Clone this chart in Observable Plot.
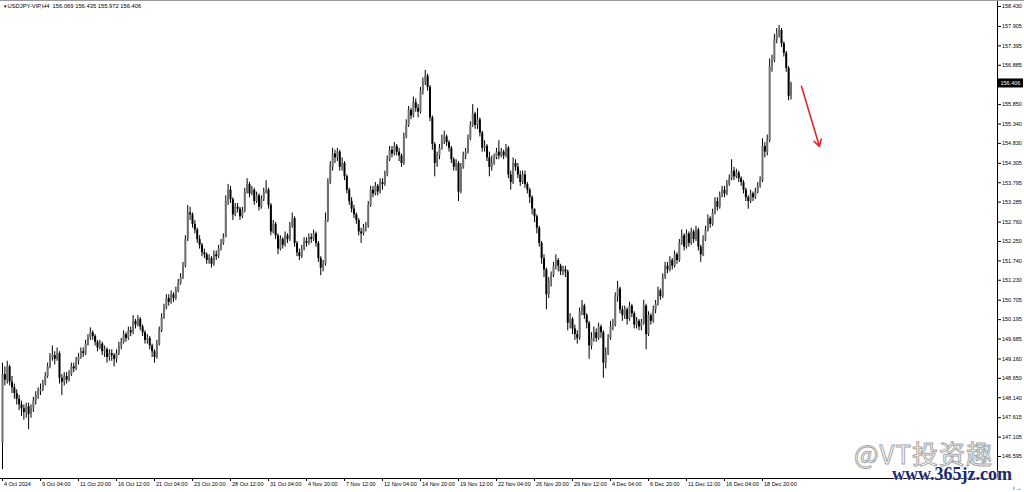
<!DOCTYPE html>
<html><head><meta charset="utf-8">
<script src="https://cdn.jsdelivr.net/npm/d3@7"></script>
<script src="https://cdn.jsdelivr.net/npm/@observablehq/plot@0.6"></script>
<style>
html,body{margin:0;padding:0;background:#fff;overflow:hidden}
#wrap{position:relative;width:1024px;height:492px}
#wrap svg{display:block}
.topline{position:absolute;left:0;top:0;width:1024px;height:1px;background:#9a9a9a}
.wm1{position:absolute;left:854px;top:440px;font:26px/1 "Noto Sans CJK SC","Noto Sans",sans-serif;color:#fff;-webkit-text-stroke:1px #a8a8a8;white-space:nowrap;letter-spacing:1px}
.wm2{position:absolute;left:892px;top:465px;font:bold 18px/1 "Liberation Serif","DejaVu Serif",serif;color:#1b2a6e;white-space:nowrap;text-shadow:0 0 2px #fff,0 0 2px #fff}
</style></head>
<body><div id="wrap"><div class="topline"></div></div>
<script>
const symbol = "USDJPY-VIP,H4";
const firstOpen = 146.95;
const close = [
148.75,148.6,148.95,148.55,148.4,148.25,148.1,147.95,147.85,147.75,147.9,147.7,147.85,148.05,148.2,148.3,
148.35,148.5,148.7,148.95,149.2,149.25,149.15,149.3,148.65,148.55,148.7,148.6,148.75,148.95,148.9,149.1,
149.2,149.35,149.3,149.55,149.7,149.85,149.75,149.6,149.45,149.55,149.35,149.4,149.2,149.3,149.25,149.15,
149.3,149.5,149.6,149.8,149.7,149.9,149.85,150.15,150.05,150.2,150.0,149.85,149.65,149.7,149.5,149.35,
149.2,149.55,149.9,150.25,150.5,150.75,150.65,150.85,150.75,150.95,151.15,151.3,151.6,152.3,153.0,152.95,
152.7,152.55,152.3,152.15,151.95,151.9,151.75,151.8,151.65,151.9,151.85,152.05,152.2,152.35,153.3,153.6,
153.35,152.95,153.15,153.1,152.9,153.05,153.55,153.75,153.5,153.6,153.3,153.45,153.15,153.35,153.55,153.6,
153.2,152.5,152.7,152.4,152.05,152.3,152.15,152.4,152.3,152.65,152.85,152.2,151.95,151.85,152.05,152.25,
152.2,152.35,152.3,152.45,152.2,151.8,151.55,151.65,152.8,153.8,154.2,154.55,154.45,154.6,154.2,154.3,
153.95,153.6,153.3,153.1,152.95,152.8,152.5,152.45,152.6,152.65,153.2,153.6,153.5,153.7,153.55,153.8,
153.75,154.0,154.4,154.65,154.55,154.75,154.6,154.5,154.3,155.0,155.3,155.7,155.55,155.9,155.75,155.65,
156.2,156.45,156.6,156.3,155.5,154.8,154.3,154.5,154.7,154.9,155.0,154.85,154.7,154.4,154.2,154.3,
153.55,154.2,154.5,154.6,154.95,155.3,155.6,155.3,155.45,155.1,154.7,154.75,154.45,154.2,154.3,154.45,
154.6,154.5,154.6,154.5,154.7,154.0,153.8,154.3,154.2,154.0,153.8,154.0,153.75,153.6,153.4,153.1,
152.9,152.6,152.2,151.8,151.5,150.85,151.2,151.35,151.6,151.75,151.6,151.45,151.5,151.45,150.1,150.2,
149.95,149.8,149.7,150.4,150.55,150.3,150.1,149.5,149.7,149.85,149.7,150.0,149.85,149.05,149.3,149.7,
150.0,150.05,150.8,151.0,150.45,150.3,150.45,150.2,150.55,150.35,150.05,150.15,150.0,150.1,150.55,149.8,
150.3,150.15,150.45,150.6,150.95,150.8,151.3,151.6,151.5,151.75,151.6,151.9,151.75,152.2,152.4,152.1,
152.45,152.2,152.5,152.3,152.55,152.1,151.9,152.3,152.55,152.85,152.7,153.0,153.3,153.15,153.45,153.6,
153.5,153.75,153.9,154.1,153.95,154.05,153.9,153.8,153.6,153.4,153.3,153.5,153.4,153.55,153.7,153.85,
154.75,154.6,154.9,156.85,157.0,157.55,157.7,157.8,157.45,157.2,156.8,156.069,156.406
];
const high = [
149.05,148.95,149.1,149.0,148.7,148.5,148.35,148.2,148.05,147.95,148.0,148.0,147.95,148.15,148.3,148.4,
148.5,148.6,148.8,149.05,149.3,149.5,149.35,149.45,149.35,148.75,148.8,148.8,148.85,149.05,149.05,149.2,
149.3,149.45,149.45,149.65,149.8,149.98,149.9,149.8,149.65,149.65,149.6,149.5,149.45,149.4,149.4,149.3,
149.4,149.6,149.7,149.9,149.85,150.0,150.0,150.3,150.2,150.3,150.25,150.05,149.9,149.8,149.75,149.55,
149.4,149.65,150.0,150.35,150.6,150.85,150.85,150.95,150.9,151.05,151.25,151.4,151.7,152.4,153.2,153.15,
153.0,152.8,152.6,152.4,152.2,152.05,151.95,151.9,151.85,152.0,152.0,152.15,152.3,152.45,153.45,153.75,
153.7,153.4,153.25,153.25,153.15,153.15,153.65,153.9,153.8,153.7,153.65,153.55,153.5,153.45,153.65,153.85,
153.65,153.25,152.8,152.75,152.45,152.4,152.35,152.5,152.45,152.75,153.0,152.9,152.25,152.05,152.15,152.35,
152.35,152.45,152.45,152.55,152.5,152.25,151.85,151.75,153.0,153.9,154.35,154.7,154.65,154.7,154.65,154.45,
154.35,154.0,153.65,153.4,153.2,153.0,152.85,152.6,152.7,152.75,153.3,153.7,153.7,153.8,153.75,153.9,
153.9,154.1,154.5,154.75,154.75,154.85,154.8,154.7,154.55,155.1,155.45,155.8,155.75,156.05,156.0,155.85,
156.3,156.55,156.75,156.65,156.35,155.55,154.85,154.6,154.8,155.05,155.15,155.05,154.9,154.75,154.45,154.4,
154.35,154.3,154.6,154.7,155.05,155.4,155.85,155.65,155.75,155.5,155.15,154.9,154.8,154.6,154.5,154.55,
154.7,154.9,154.7,154.65,154.8,154.75,154.1,154.45,154.4,154.3,154.1,154.1,154.1,153.8,153.65,153.45,
153.1,152.95,152.65,152.25,151.9,151.55,151.3,151.45,151.7,151.9,151.8,151.65,151.6,151.6,151.5,150.35,
150.25,150.05,149.9,150.5,150.7,150.6,150.35,150.15,149.85,150.0,149.95,150.1,150.05,149.9,149.45,149.8,
150.15,150.2,150.9,151.2,151.05,150.55,150.55,150.5,150.65,150.6,150.4,150.25,150.2,150.2,150.7,150.6,
150.4,150.35,150.55,150.7,151.05,151.0,151.4,151.7,151.7,151.85,151.8,152.0,151.95,152.3,152.55,152.45,
152.55,152.5,152.6,152.55,152.65,152.6,152.15,152.4,152.65,152.95,152.9,153.1,153.4,153.4,153.55,153.7,
153.7,153.85,154.0,154.4,154.2,154.15,154.1,153.95,153.85,153.65,153.45,153.6,153.55,153.65,153.8,153.95,
154.95,154.85,155.05,157.05,157.15,157.7,157.85,157.93,157.85,157.5,157.25,156.85,156.435
];
const low = [
146.25,148.45,148.5,148.45,148.25,148.1,147.95,147.8,147.65,147.55,147.6,147.3,147.6,147.75,147.95,148.1,
148.2,148.3,148.45,148.65,148.9,149.1,149.0,149.1,148.5,148.2,148.45,148.5,148.55,148.7,148.8,148.85,
149.0,149.15,149.2,149.25,149.5,149.65,149.65,149.5,149.35,149.4,149.25,149.2,149.05,149.1,149.1,148.95,
149.05,149.25,149.4,149.55,149.6,149.65,149.75,149.8,149.95,150.0,149.9,149.75,149.55,149.55,149.4,149.2,
149.05,149.15,149.5,149.85,150.2,150.45,150.55,150.6,150.65,150.7,150.9,151.1,151.25,151.55,152.25,152.8,
152.6,152.45,152.2,152.05,151.85,151.8,151.65,151.65,151.55,151.6,151.75,151.8,152.0,152.15,152.35,153.2,
153.25,152.8,152.9,153.0,152.8,152.85,153.0,153.5,153.4,153.45,153.2,153.25,153.05,153.1,153.3,153.5,
153.1,152.4,152.45,152.3,151.9,152.0,152.05,152.1,152.2,152.25,152.6,152.1,151.85,151.75,151.8,152.0,
152.1,152.15,152.2,152.25,152.1,151.7,151.35,151.45,151.6,152.75,153.75,154.1,154.3,154.35,154.1,154.1,
153.85,153.5,153.2,153.0,152.85,152.7,152.4,152.2,152.4,152.5,152.6,153.15,153.4,153.45,153.45,153.5,
153.6,153.7,153.95,154.35,154.45,154.5,154.5,154.35,154.2,154.25,154.95,155.25,155.45,155.5,155.65,155.5,
155.6,156.1,156.35,156.2,155.4,154.65,153.95,154.2,154.4,154.65,154.8,154.75,154.6,154.3,154.1,154.1,
153.3,153.5,154.15,154.4,154.55,154.9,155.25,155.2,155.2,155.0,154.6,154.6,154.35,153.95,154.1,154.25,
154.4,154.4,154.45,154.4,154.45,153.9,153.6,153.75,154.1,153.9,153.7,153.75,153.65,153.5,153.25,152.95,
152.75,152.45,152.1,151.65,151.3,150.45,150.75,151.05,151.3,151.5,151.45,151.35,151.35,151.3,149.9,149.95,
149.8,149.65,149.55,149.65,150.3,150.2,149.95,149.15,149.4,149.6,149.6,149.65,149.7,148.65,148.9,149.25,
149.65,149.9,150.0,150.65,150.35,150.15,150.2,150.05,150.15,150.25,149.95,149.95,149.9,149.9,150.05,149.4,
149.75,150.05,150.1,150.35,150.55,150.7,150.75,151.25,151.4,151.45,151.5,151.55,151.65,151.7,152.15,152.0,
152.05,152.1,152.15,152.2,152.25,152.0,151.7,151.85,152.25,152.5,152.6,152.65,152.95,153.05,153.1,153.4,
153.4,153.45,153.7,153.85,153.85,153.9,153.8,153.7,153.5,153.3,153.1,153.25,153.3,153.35,153.5,153.65,
153.8,154.45,154.5,154.85,156.7,156.95,157.45,157.6,157.35,157.1,156.7,155.95,155.972
];
// bar index of every time label on the bottom axis
const xTickIndex = [0,16,32,48,64,80,96,112,128,144,160,176,192,208,224,240,256,272,288,304,320];
const xTickLabels = ["4 Oct 2024","9 Oct 04:00","11 Oct 20:00","16 Oct 12:00","21 Oct 04:00","23 Oct 20:00",
  "28 Oct 12:00","31 Oct 04:00","4 Nov 20:00","7 Nov 12:00","12 Nov 04:00","14 Nov 20:00","19 Nov 12:00",
  "22 Nov 04:00","26 Nov 20:00","29 Nov 12:00","4 Dec 04:00","6 Dec 20:00","11 Dec 12:00","16 Dec 04:00","18 Dec 20:00"];
const yTicks = [158.430,157.905,157.395,156.885,155.850,155.340,154.830,154.305,153.795,153.285,152.760,
  152.250,151.740,151.230,150.705,150.195,149.685,149.160,148.650,148.140,147.615,147.105,146.595];
// red annotation arrow (bar index, price)
const arrowFrom = [336.4, 156.33];
const arrowTo = [344.0, 154.75];

const yDomain = [146.016, 158.588];
const xDomain = [-0.842, 418.95];

const n = close.length;
const bars = close.map((c, i) => {
  const o = i === 0 ? firstOpen : close[i - 1];
  return {i, open: o, close: c, high: Math.max(high[i], o, c), low: Math.min(low[i], o, c)};
});
const last = bars[n - 1];
const fmt = d3.format(".3f");
const labelMap = new Map(xTickIndex.map((d, k) => [d, xTickLabels[k]]));
const header = `${symbol}  ${fmt(last.open)} ${fmt(last.high)} ${fmt(last.low)} ${fmt(last.close)}`;

const plot = Plot.plot({
  width: 1024, height: 492,
  marginLeft: 0, marginRight: 27, marginTop: 0, marginBottom: 14,
  style: {fontFamily: "'Liberation Sans', Arial, sans-serif", fontSize: "5.5px", background: "#fff", color: "#000", overflow: "visible"},
  x: {domain: xDomain, axis: null},
  y: {domain: yDomain, axis: null},
  marks: [
    Plot.ruleX(bars, {x: "i", y1: "low", y2: "high", stroke: "#000", strokeWidth: 1}),
    Plot.ruleX(bars, {x: "i", y1: "open", y2: "close", stroke: d => d.close >= d.open ? "#6f6f6f" : "#000", strokeWidth: 2}),
    Plot.ruleY([yDomain[0]], {stroke: "#000", strokeWidth: 1}),
    Plot.ruleX([xDomain[1]], {stroke: "#000", strokeWidth: 1}),
    Plot.axisY(yTicks, {anchor: "right", tickSize: 3, tickPadding: 1.5, tickFormat: fmt, fontSize: 5.5}),
    Plot.axisX(xTickIndex, {anchor: "bottom", tickSize: 3, tickFormat: () => ""}),
    Plot.text(xTickIndex, {x: d => d, text: d => labelMap.get(d), frameAnchor: "bottom", textAnchor: "start", dx: 1.5, dy: 7.5, fontSize: 5.5}),
    Plot.text([header], {text: d => d, frameAnchor: "top-left", dx: 7, dy: 6, fontSize: 5.8, lineAnchor: "middle"}),
    Plot.text(["▼"], {text: d => d, frameAnchor: "top-left", dx: 2.5, dy: 6, fontSize: 4.5, lineAnchor: "middle"}),
    Plot.arrow([{from: arrowFrom, to: arrowTo}], {x1: d => d.from[0], y1: d => d.from[1], x2: d => d.to[0], y2: d => d.to[1], stroke: "#e3262a", strokeWidth: 1.6, headLength: 7})
  ]
});

// current price box on the price scale
const yPx = plot.scale("y").apply(last.close);
const xEdge = plot.scale("x").range[1];
const g = d3.select(plot).append("g");
g.append("rect").attr("x", xEdge + 1).attr("y", yPx - 4.5).attr("width", 25).attr("height", 9).attr("fill", "#000");
g.append("text").attr("x", xEdge + 3.5).attr("y", yPx).attr("dy", "0.32em").attr("fill", "#fff")
  .attr("text-anchor", "start").style("font-size", "5.5px").style("font-family", "'Liberation Sans', Arial, sans-serif")
  .text(fmt(last.close));

const wrap = document.getElementById("wrap");
wrap.insertBefore(plot, wrap.firstChild);
const w1 = document.createElement("div"); w1.className = "wm1"; w1.textContent = "@VT投资趣"; wrap.appendChild(w1);
const w2 = document.createElement("div"); w2.className = "wm2"; w2.textContent = "www.365jz.com"; wrap.appendChild(w2);
</script>
</body></html>
